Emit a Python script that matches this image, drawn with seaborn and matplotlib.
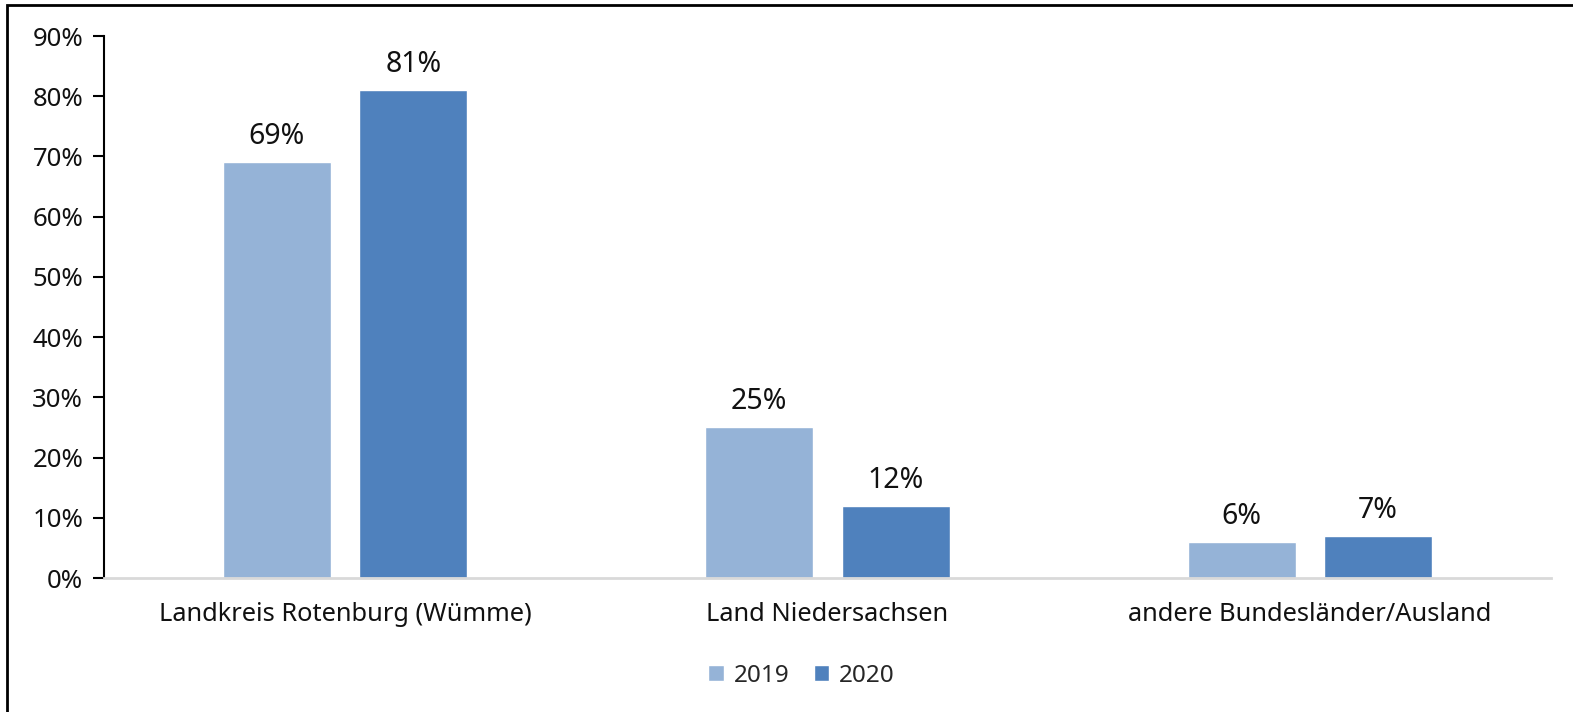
import pandas as pd
import matplotlib.pyplot as plt
import seaborn as sns
from matplotlib.patches import Rectangle
from matplotlib.ticker import PercentFormatter

categories = ["Landkreis Rotenburg (Wümme)", "Land Niedersachsen", "andere Bundesländer/Ausland"]
years = ["2019", "2020"]
values_2019 = [69, 25, 6]
values_2020 = [81, 12, 7]
colors = {"2019": "#95B3D7", "2020": "#4F81BD"}


def build_frame():
    rows = []
    for cat, v19, v20 in zip(categories, values_2019, values_2020):
        rows.append({"Herkunft": cat, "Jahr": "2019", "Anteil": v19})
        rows.append({"Herkunft": cat, "Jahr": "2020", "Anteil": v20})
    return pd.DataFrame(rows)


def main():
    sns.set_style("white")
    plt.rcParams["font.family"] = ["Noto Sans", "DejaVu Sans"]

    df = build_frame()
    fig = plt.figure(figsize=(15.73, 7.12), dpi=100)
    ax = fig.add_axes([0.0661, 0.1882, 0.9199, 0.7612])

    sns.barplot(data=df, x="Herkunft", y="Anteil", hue="Jahr", hue_order=years,
                palette=colors, width=0.566, saturation=1, ax=ax, legend=True)

    # schmalere Balken mit Abstand
    for p in ax.patches:
        w = p.get_width()
        if w > 0:
            c = p.get_x() + w / 2
            p.set_width(0.224)
            p.set_x(c - 0.112)

    for cont in ax.containers:
        ax.bar_label(cont, labels=[f"{v:.0f}%" for v in cont.datavalues],
                     padding=8, fontsize=20.5, color="#111111")

    ax.set_xlim(-0.5, 2.5)
    ax.set_ylim(0, 90)
    ax.set_yticks(range(0, 91, 10))
    ax.yaxis.set_major_formatter(PercentFormatter(decimals=0))
    ax.set_xlabel("")
    ax.set_ylabel("")
    ax.tick_params(axis="y", left=True, length=8, width=1.5, labelsize=18.5,
                   color="black", pad=7, labelcolor="#111111")
    ax.tick_params(axis="x", bottom=False, labelsize=18.3, pad=14,
                   labelcolor="#111111")

    for s in ["top", "right"]:
        ax.spines[s].set_visible(False)
    ax.spines["left"].set_color("black")
    ax.spines["left"].set_linewidth(1.5)
    ax.spines["bottom"].set_color("#D9D9D9")
    ax.spines["bottom"].set_linewidth(2)

    handles, labels = ax.get_legend_handles_labels()
    ax.legend(handles, labels, loc="center", bbox_to_anchor=(0.482, -0.18),
              ncol=2, frameon=False, fontsize=17.5, handlelength=0.65,
              handleheight=0.65, handletextpad=0.4, columnspacing=1.0)

    # Rahmen (links und oben sichtbar)
    fig.patches.append(Rectangle((7 / 1573, -0.1), 1.2, 1 - 5 / 712 + 0.1,
                                 transform=fig.transFigure, fill=False,
                                 edgecolor="black", linewidth=2))

    fig.savefig("out.png", dpi=100)
    plt.close(fig)


if __name__ == "__main__":
    main()
